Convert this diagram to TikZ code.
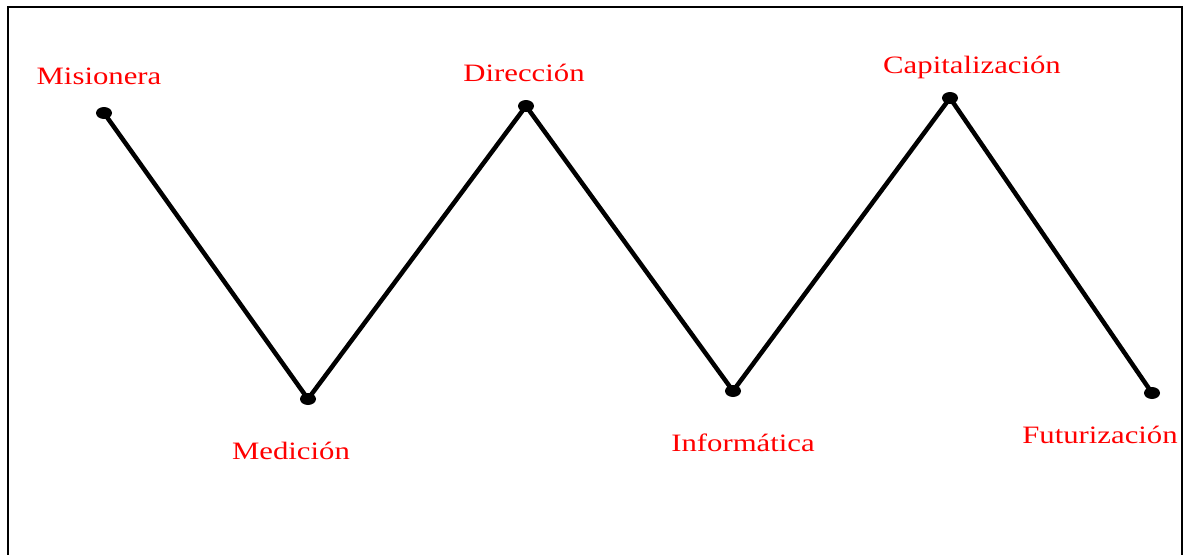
\documentclass[tikz,border=0pt]{standalone}
\usepackage{fontspec}
\newfontfamily\labfont[FakeStretch=1.23]{Liberation Serif}
\begin{document}
\begin{tikzpicture}[x=1pt,y=-1pt,
  lbl/.style={text=red,font=\labfont\fontsize{25}{28}\selectfont,anchor=base,inner sep=0pt},
  link/.style={line width=4.5pt,line join=round}]
\useasboundingbox (0,0) rectangle (1185,554);
\draw[line width=1.5pt] (8,570) -- (8,7) -- (1182,7) -- (1182,570);
\coordinate (p1) at (104,113);
\coordinate (p2) at (308,399);
\coordinate (p3) at (526,106);
\coordinate (p4) at (733,391);
\coordinate (p5) at (950,98);
\coordinate (p6) at (1152,393);
\draw[link] (p1) -- (p2) -- (p3) -- (p4) -- (p5) -- (p6);
\foreach \i in {1,...,6}{\fill (p\i) ellipse (8pt and 6pt);}
\node[lbl] (l1) at (99,84) {Misionera};
\node[lbl] (l2) at (291,459) {Medición};
\node[lbl] (l3) at (524,81) {Dirección};
\node[lbl] (l4) at (743,451) {Informática};
\node[lbl] (l5) at (972,73) {Capitalización};
\node[lbl] (l6) at (1100,443) {Futurización};
\end{tikzpicture}
\end{document}
